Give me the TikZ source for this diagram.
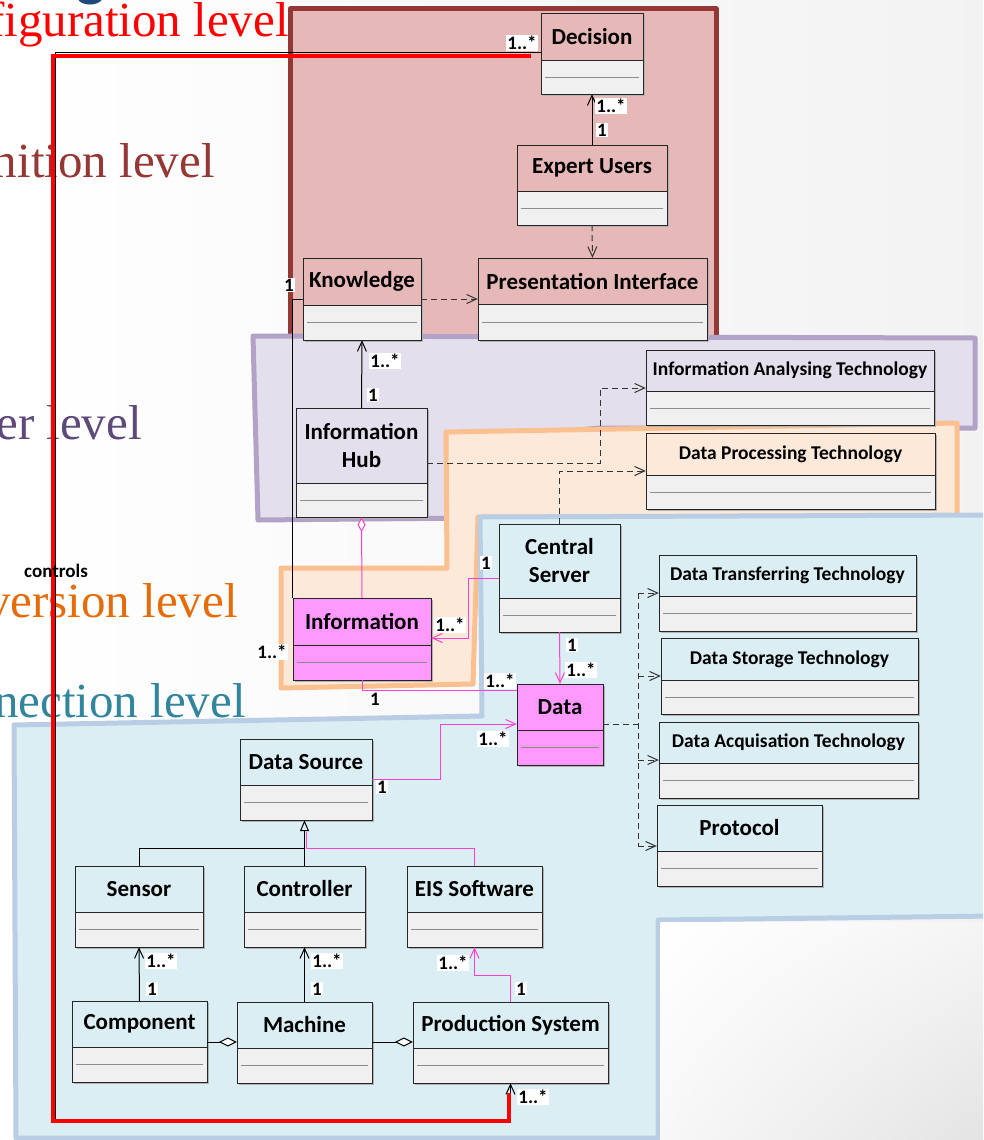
\documentclass[tikz,border=0pt]{standalone}
\usepackage{fontspec}
\setmainfont{Carlito}
\newfontfamily\serifface{Liberation Serif}
\usetikzlibrary{arrows.meta,fit,calc,shadings}

\definecolor{cfgfill}{HTML}{E6B8B7}
\definecolor{cfgedge}{HTML}{953735}
\definecolor{cybfill}{HTML}{E4DFEC}
\definecolor{cybedge}{HTML}{B3A2C7}
\definecolor{convfill}{HTML}{FDE9D9}
\definecolor{convedge}{HTML}{FAC090}
\definecolor{connfill}{HTML}{DBEEF4}
\definecolor{connedge}{HTML}{B9CDE5}
\definecolor{pinkfill}{HTML}{FF99FF}
\definecolor{pinkline}{HTML}{FF40D0}
\definecolor{attrfill}{HTML}{F0F0F0}
\definecolor{titleblue}{HTML}{1F497D}
\definecolor{lvlcfg}{HTML}{FF0000}
\definecolor{lvlcog}{HTML}{953735}
\definecolor{lvlcyb}{HTML}{5F497A}
\definecolor{lvlconv}{HTML}{E46C0A}
\definecolor{lvlconn}{HTML}{31859C}

\newcommand\techfont{\fontsize{19.5}{22}\selectfont}

% UML class: name, x1, y1, x2, y(divider), y2, header fill, attribute fill, title
\newcommand{\umlclass}[9]{%
  \fill[boxshadow] ({#2+2},{#3+2}) rectangle ({#4+2},{#6+2});
  \fill[#7] (#2,#3) rectangle (#4,#5);
  \fill[#8] (#2,#5) rectangle (#4,#6);
  \draw[attrrule] ({#2+4},{(#5+#6)/2}) -- ({#4-4},{(#5+#6)/2});
  \draw[boxedge] (#2,#3) rectangle (#4,#6) (#2,#5) -- (#4,#5);
  \node[fit={(#2,#3) (#4,#6)}, inner sep=0pt] (#1) {};
  \node[classname] (#1-name) at ({(#2+#4)/2},{(#3+#5)/2}) {#9};
}

\tikzset{
  boxedge/.style={draw=black!85, line width=0.9pt},
  boxshadow/.style={fill=black!30},
  attrrule/.style={draw=black!45, line width=0.6pt},
  classname/.style={font=\bfseries\fontsize{23}{28}\selectfont, align=center, inner sep=0pt},
  lbl/.style={fill=white, inner sep=1pt, font=\bfseries\fontsize{19}{19}\selectfont},
  assoc/.style={draw=black, line width=1pt, -{Straight Barb[length=10pt,width=9pt]}},
  pinkassoc/.style={draw=pinkline, line width=1pt, -{Straight Barb[length=10pt,width=9pt]}},
  pinkplain/.style={draw=pinkline, line width=1pt},
  depend/.style={draw=black!80, line width=1pt, dash pattern=on 6pt off 4pt, -{Straight Barb[length=10pt,width=9pt]}},
  dashline/.style={draw=black!80, line width=1pt, dash pattern=on 6pt off 4pt},
  generalize/.style={draw=black, line width=1pt, -{Triangle[open, length=11pt, width=9pt]}},
  aggregate/.style={draw=black, line width=1pt, -{Diamond[fill=white, length=18pt, width=9pt]}},
  region/.style={line width=5pt, line join=round},
  leveltext/.style={anchor=base east, inner sep=0pt, font=\serifface\fontsize{49}{52}\selectfont},
}

\begin{document}
\begin{tikzpicture}[x=1pt, y=-1pt]
\useasboundingbox (0,0) rectangle (983,1140);
\begin{scope}
\clip (0,0) rectangle (983,1140);

% slide background
\shade[left color=white, right color=black!5] (0,0) rectangle (983,1140);

% slide title, running off the top edge
\node[anchor=base, inner sep=0pt, text=titleblue, font=\bfseries\fontsize{62}{62}\selectfont] (title) at (91,-5) {g};

% level captions
\node[leveltext, text=lvlcfg]  (lvl-cfg)  at (289,37)  {Configuration level};
\node[leveltext, text=lvlcog]  (lvl-cog)  at (215,177) {Cognition level};
\node[leveltext, text=lvlcyb]  (lvl-cyb)  at (142,439) {Cyber level};
\node[leveltext, text=lvlconv] (lvl-conv) at (238,617) {Conversion level};
\node[leveltext, text=lvlconn] (lvl-conn) at (246,717) {Connection level};

% level regions
\filldraw[region, fill=cfgfill, draw=cfgedge] (290,9) -- (716,9) -- (716,345) -- (290,345) -- cycle;
\filldraw[region, fill=cybfill, draw=cybedge] (253,336) -- (975,338) -- (975,428) -- (600,428) -- (470,440) -- (470,518) -- (258,520) -- cycle;
\filldraw[region, fill=convfill, draw=convedge] (446,432) -- (957,423) -- (957,516) -- (478,517) -- (473,684) -- (281,688) -- (281,568) -- (447,568) -- cycle;
\filldraw[region, fill=connfill, draw=connedge] (480,517) -- (995,515) -- (995,916) -- (658,920) -- (658,1138) -- (16,1138) -- (14,725) -- (482,716) -- cycle;
\shade[upper left=white, upper right=black!4, lower left=black!3, lower right=black!11] (660.5,922.5) rectangle (990,1145);

% classes
\umlclass{decision}{541}{13}{643}{60}{94}{cfgfill}{attrfill}{Decision}
\umlclass{expert}{517}{145}{667}{191}{225}{cfgfill}{attrfill}{Expert Users}
\umlclass{knowledge}{303}{258}{421}{305}{340}{cfgfill}{attrfill}{Knowledge}
\umlclass{present}{478}{258}{707}{304}{340}{cfgfill}{attrfill}{Presentation Interface}
\umlclass{iat}{646}{350}{934}{391}{425}{cybfill}{attrfill}{\techfont Information Analysing Technology}
\umlclass{dpt}{646}{433}{935}{475}{509}{convfill}{attrfill}{\techfont Data Processing Technology}
\umlclass{hub}{296}{408}{427}{483}{517}{cybfill}{attrfill}{Information\\Hub}
\umlclass{server}{499}{524}{620}{598}{632}{connfill}{attrfill}{Central\\Server}
\umlclass{information}{293}{598}{431}{645}{680}{pinkfill}{pinkfill}{Information}
\umlclass{data}{517}{684}{603}{730}{765}{pinkfill}{pinkfill}{Data}
\umlclass{dtt}{659}{555}{916}{596}{631}{connfill}{attrfill}{\techfont Data Transferring Technology}
\umlclass{dst}{661}{638}{918}{680}{714}{connfill}{attrfill}{\techfont Data Storage Technology}
\umlclass{dat}{659}{722}{918}{763}{798}{connfill}{attrfill}{\techfont Data Acquisation Technology}
\umlclass{protocol}{657}{805}{822}{851}{886}{connfill}{attrfill}{Protocol}
\umlclass{dsource}{240}{739}{372}{785}{820}{connfill}{attrfill}{Data Source}
\umlclass{sensor}{75}{866}{203}{912}{947}{connfill}{attrfill}{Sensor}
\umlclass{controller}{244}{866}{365}{912}{947}{connfill}{attrfill}{Controller}
\umlclass{eis}{407}{866}{542}{912}{947}{connfill}{attrfill}{EIS Software}
\umlclass{component}{72}{1001}{207}{1047}{1082}{connfill}{attrfill}{Component}
\umlclass{machine}{237}{1002}{372}{1048}{1083}{connfill}{attrfill}{Machine}
\umlclass{ps}{413}{1002}{608}{1048}{1083}{connfill}{attrfill}{Production System}

% associations and dependencies
\draw[assoc] (expert.north) -- (decision.south);
\draw[depend] (expert.south) -- (present.north);
\draw[depend] (knowledge.east |- 0,299) -- (present.west |- 0,299);
\draw[assoc] (hub.north) -- (knowledge.south);
\draw[depend] (hub.east |- 0,463) -| (600,388) -- (iat.west |- 0,388);
\draw[depend] (server.north) |- (dpt.west |- 0,471);
\draw[draw=black, line width=1pt] (knowledge.west |- 0,299) -| (information.north west);

\draw[pinkplain, -{Diamond[fill=white, length=15pt, width=8pt]}] (information.north) -- (hub.south);
\draw[pinkassoc] (server.west |- 0,578) -| (468,638) -- (information.east |- 0,638);
\draw[pinkplain] (information.south) |- (data.west |- 0,690);
\draw[pinkassoc] (server.south) -- (data.north);
\draw[pinkassoc] (dsource.east |- 0,779) -| (440,724) -- (data.west |- 0,724);

% data technologies
\coordinate (bus-top) at (638,593);
\coordinate (bus-bot) at (638,846);
\draw[dashline] (data.east |- 0,724) -- (bus-top |- 0,724);
\draw[dashline] (bus-top) -- (bus-bot);
\draw[depend] (bus-top) -- (dtt.west |- bus-top);
\draw[depend] (bus-top |- 0,676) -- (dst.west |- 0,676);
\draw[depend] (bus-top |- 0,760) -- (dat.west |- 0,760);
\draw[depend] (bus-bot) -- (protocol.west |- bus-bot);

% data source hierarchy
\coordinate (gen-joint) at (305,848);
\draw[generalize] (controller.north) -- (controller.north |- dsource.south);
\draw[draw=black, line width=1pt] (sensor.north) |- (gen-joint);
\draw[pinkplain] (eis.north) |- (306,848) -- (306,832);

\draw[assoc] (component.north) -- (sensor.south);
\draw[assoc] (machine.north) -- (controller.south);
\draw[pinkassoc] (ps.north) |- (eis.south |- 0,975) -- (eis.south);
\draw[aggregate] (component.east |- 0,1042) -- (machine.west |- 0,1042);
\draw[aggregate] (machine.east |- 0,1042) -- (ps.west |- 0,1042);

% control loop from decision back to production
\draw[assoc] (decision.west |- 0,53) -| (55,1119) -| (ps.south);
\coordinate (loop-start) at (531,56);
\coordinate (loop-end) at (509,1093);
\draw[red, line width=4pt] (loop-start) -- (53,56) -- (53,1121) -- (509,1121) -- (loop-end);
\node[font=\bfseries\fontsize{19}{19}\selectfont, inner sep=0pt] (ctl) at (56,571) {controls};

% multiplicities
\node[lbl] (m1) at (522,43) {1..*};
\node[lbl] (m2) at (611,106) {1..*};
\node[lbl] (m3) at (602,130) {1};
\node[lbl] (m4) at (289,285) {1};
\node[lbl] (m5) at (385,361) {1..*};
\node[lbl] (m6) at (373,395) {1};
\node[lbl] (m7) at (486,563) {1};
\node[lbl] (m8) at (450,625) {1..*};
\node[lbl] (m9) at (272,652) {1..*};
\node[lbl] (m10) at (375,699) {1};
\node[lbl] (m11) at (500,681) {1..*};
\node[lbl] (m12) at (572,645) {1};
\node[lbl] (m13) at (581,670) {1..*};
\node[lbl] (m14) at (493,739) {1..*};
\node[lbl] (m15) at (382,787) {1};
\node[lbl] (m16) at (161,961) {1..*};
\node[lbl] (m17) at (152,989) {1};
\node[lbl] (m18) at (327,961) {1..*};
\node[lbl] (m19) at (317,989) {1};
\node[lbl] (m20) at (453,963) {1..*};
\node[lbl] (m21) at (521,989) {1};
\node[lbl] (m22) at (533,1097) {1..*};
\end{scope}
\end{tikzpicture}
\end{document}
